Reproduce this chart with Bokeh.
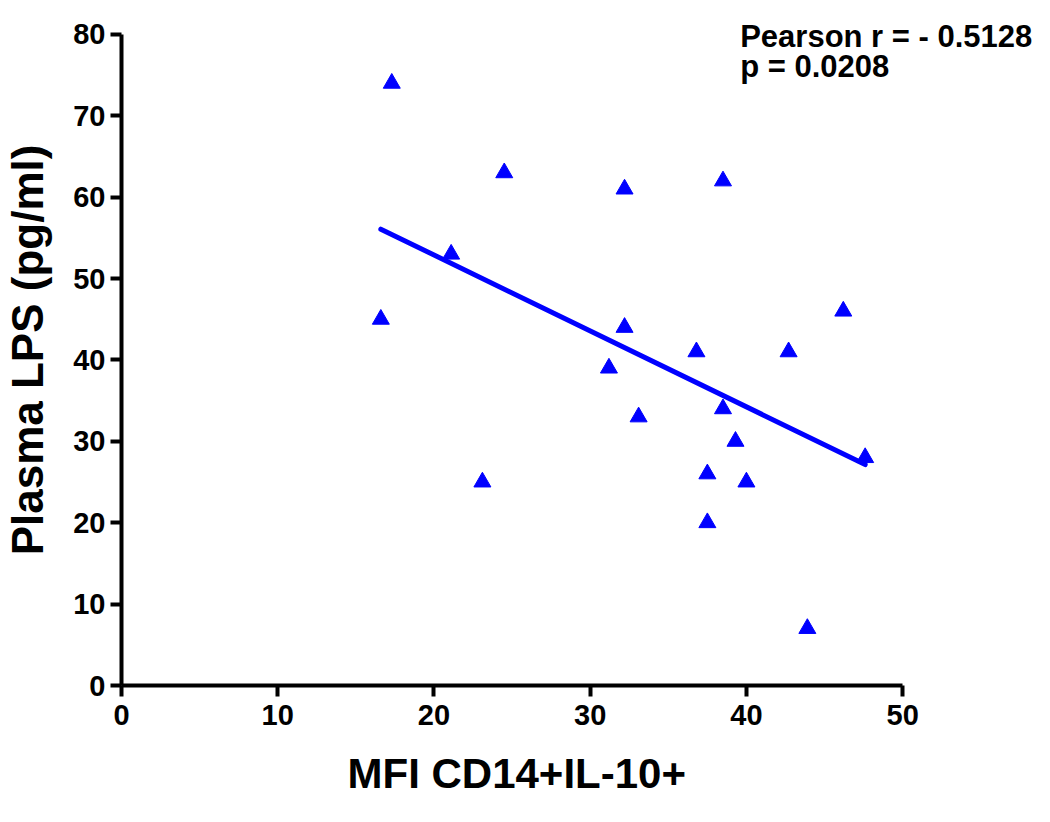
import numpy as np
from bokeh.plotting import figure
from bokeh.models import Range1d, Label, FixedTicker, Title
from bokeh.embed import file_html
from bokeh.resources import INLINE

# Data
mfi = [17.3, 16.6, 24.5, 21.1, 23.1, 32.2, 38.5, 32.2, 31.2, 33.1,
       36.8, 38.5, 39.3, 37.5, 37.5, 40.0, 42.7, 46.2, 47.6, 43.9]
lps = [74, 45, 63, 53, 25, 61, 62, 44, 39, 33,
       41, 34, 30, 26, 20, 25, 41, 46, 28, 7]
x_ticks = [0, 10, 20, 30, 40, 50]
y_ticks = [0, 10, 20, 30, 40, 50, 60, 70, 80]
stats_line1 = "Pearson r = - 0.5128"
stats_line2 = "p = 0.0208"
x_title = "MFI CD14+IL-10+"
y_title = "Plasma LPS (pg/ml)"

FONT = "Liberation Sans"
BLUE = "#0000FF"

W, H = 1042, 816
LEFT, TOP, RIGHT, BOTTOM = 120, 14, 0, 130
X_PX = 782.0  # pixel length of 0..50 on the x axis
Y_PX = 652.0  # pixel length of 0..80 on the y axis
x_max = 50.0 * (W - LEFT - RIGHT) / X_PX
y_max = 80.0 * (H - TOP - BOTTOM) / Y_PX

p = figure(width=W, height=H, output_backend="svg", toolbar_location=None,
           x_range=Range1d(0, x_max), y_range=Range1d(0, y_max),
           min_border_left=LEFT, min_border_top=TOP, min_border_right=RIGHT,
           min_border_bottom=BOTTOM)
p.outline_line_color = None
p.grid.visible = False
p.background_fill_color = "white"
p.border_fill_color = "white"

# regression line from data
slope, intercept = np.polyfit(mfi, lps, 1)
xl = np.array([min(mfi), max(mfi)])
p.line(xl, slope * xl + intercept, line_color=BLUE, line_width=5, line_cap="round")

p.scatter(mfi, lps, marker="triangle", size=17, fill_color=BLUE, line_color=BLUE)

for ax in (p.xaxis[0], p.yaxis[0]):
    ax.axis_line_width = 4
    ax.axis_line_color = "black"
    ax.major_tick_line_width = 4
    ax.major_tick_line_color = "black"
    ax.major_tick_in = 0
    ax.major_tick_out = 11
    ax.minor_tick_line_color = None
    ax.major_label_text_font = FONT
    ax.major_label_text_font_style = "bold"
    ax.major_label_text_font_size = "29px"
    ax.major_label_text_color = "black"
    ax.axis_label_text_font = FONT
    ax.axis_label_text_font_style = "bold"
    ax.axis_label_text_color = "black"

p.xaxis.ticker = FixedTicker(ticks=x_ticks)
p.yaxis.ticker = FixedTicker(ticks=y_ticks)
p.xaxis.bounds = (0, 50)
p.yaxis.bounds = (0, 80)
p.xaxis.major_label_standoff = 8
p.yaxis.major_label_standoff = 5
p.yaxis.axis_label = y_title
p.yaxis.axis_label_text_font_size = "44px"
p.yaxis.axis_label_standoff = 18

p.add_layout(Title(text=x_title, align="left", offset=226, standoff=40,
                   text_font=FONT, text_font_style="bold", text_font_size="42px",
                   text_color="black"), "below")

for txt, yv in ((stats_line1, 79.8), (stats_line2, 76.1)):
    p.add_layout(Label(x=39.6, y=yv, text=txt, text_font=FONT, text_font_style="bold",
                       text_font_size="31px", text_color="black",
                       text_baseline="alphabetic", text_align="left"))

open("out.html", "w").write(file_html(p, INLINE))
